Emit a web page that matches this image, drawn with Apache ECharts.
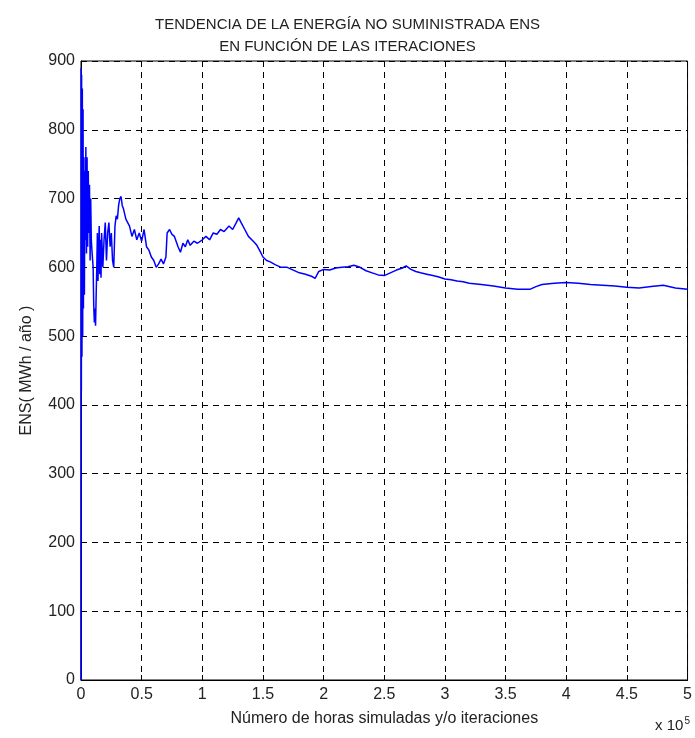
<!DOCTYPE html>
<html>
<head>
<meta charset="utf-8">
<script src="https://cdn.jsdelivr.net/npm/echarts@6/dist/echarts.min.js"></script>
<style>
html, body {margin: 0; padding: 0; background: #fff;}
#main {width: 695px; height: 738px;}
</style>
</head>
<body>
<div id="main"></div>
<script>
// iteraciones (x 10^5) y ENS (MWh / año)
const iteraciones = [
    0, 0.001, 0.003, 0.005, 0.008, 0.011, 0.014, 0.017, 0.02, 0.024, 0.028, 0.032, 0.036, 0.04, 0.045,
    0.05, 0.055, 0.06, 0.065, 0.07, 0.075, 0.08, 0.085, 0.09, 0.1, 0.105, 0.11, 0.115, 0.12, 0.125,
    0.13, 0.135, 0.14, 0.145, 0.15, 0.155, 0.16, 0.165, 0.17, 0.18, 0.19, 0.2, 0.21, 0.22, 0.23,
    0.24, 0.25, 0.26, 0.27, 0.28, 0.29, 0.3, 0.31, 0.32, 0.33, 0.34, 0.35, 0.37, 0.4, 0.42,
    0.44, 0.46, 0.48, 0.5, 0.52, 0.54, 0.56, 0.58, 0.6, 0.62, 0.64, 0.66, 0.68, 0.7, 0.71,
    0.73, 0.75, 0.77, 0.8, 0.82, 0.84, 0.86, 0.88, 0.9, 0.93, 0.96, 1.0, 1.03, 1.06, 1.09,
    1.12, 1.15, 1.18, 1.22, 1.25, 1.28, 1.3, 1.32, 1.35, 1.38, 1.42, 1.45, 1.48, 1.5, 1.53,
    1.56, 1.6, 1.65, 1.7, 1.75, 1.8, 1.85, 1.9, 1.93, 1.96, 2.0, 2.05, 2.1, 2.15, 2.2,
    2.25, 2.3, 2.35, 2.4, 2.45, 2.5, 2.55, 2.6, 2.65, 2.68, 2.72, 2.76, 2.8, 2.85, 2.9,
    2.95, 3.0, 3.05, 3.1, 3.15, 3.2, 3.3, 3.4, 3.5, 3.6, 3.7, 3.75, 3.8, 3.9, 4.0,
    4.1, 4.2, 4.3, 4.4, 4.5, 4.6, 4.7, 4.8, 4.9, 5.0
];
const ens = [
    0, 890, 420, 880, 470, 860, 500, 830, 540, 760, 560, 740, 640, 775, 620,
    760, 630, 740, 650, 720, 610, 700, 640, 625, 600, 545, 520, 540, 515, 560,
    600, 650, 580, 620, 660, 590, 640, 585, 650, 600, 640, 665, 610, 650, 665,
    630, 650, 610, 600, 660, 675, 670, 690, 700, 703, 690, 685, 670, 660, 645,
    655, 640, 650, 638, 655, 630, 625, 615, 610, 600, 605, 612, 605, 615, 650,
    655, 648, 645, 630, 622, 635, 630, 640, 632, 638, 635, 640, 645, 640, 650,
    648, 655, 652, 660, 655, 665, 672, 665, 655, 645, 638, 632, 622, 615, 610,
    608, 604, 600, 600, 596, 592, 590, 587, 584, 594, 597, 596, 599, 600, 601,
    603, 600, 595, 592, 589, 588, 592, 596, 599, 602, 597, 594, 592, 590, 588,
    586, 583, 582, 580, 579, 577, 575, 573, 570, 568, 568, 572, 575, 577, 578,
    577, 575, 574, 573, 571, 570, 572, 574, 570, 568
];
const xTicks = [0, 0.5, 1, 1.5, 2, 2.5, 3, 3.5, 4, 4.5, 5];
const yTicks = [0, 100, 200, 300, 400, 500, 600, 700, 800, 900];

let puntos = [];
for (let i = 0; i < iteraciones.length; i++){
    puntos.push([iteraciones[i], ens[i]]);
}

const fuente = 'Liberation Sans';
const gris = '#222';

let option = {
    animation: false,
    title: {
        text: 'TENDENCIA DE LA ENERGÍA NO SUMINISTRADA ENS\nEN FUNCIÓN DE LAS ITERACIONES',
        left: 'center',
        top: 9,
        textStyle: {fontFamily: fuente, fontSize: 15, fontWeight: 'normal', color: gris, lineHeight: 22}
    },
    grid: {
        left: 81, right: 3, top: 61, bottom: 58,
        show: true, borderColor: '#000', borderWidth: 1, backgroundColor: '#fff'
    },
    xAxis: {
        type: 'value',
        min: xTicks[0], max: xTicks[xTicks.length - 1], interval: 0.5,
        name: 'Número de horas simuladas y/o iteraciones',
        nameLocation: 'middle',
        nameGap: 31,
        nameTextStyle: {fontFamily: fuente, fontSize: 16, color: gris},
        axisLine: {show: true, lineStyle: {color: '#000', width: 1}},
        axisTick: {show: true, inside: true, length: 5, lineStyle: {color: '#000'}},
        axisLabel: {fontFamily: fuente, fontSize: 16, color: gris, margin: 7,
            formatter: v => String(v)},
        splitLine: {show: true, lineStyle: {color: '#000', type: [6, 5], width: 1}}
    },
    yAxis: {
        type: 'value',
        min: yTicks[0], max: yTicks[yTicks.length - 1], interval: 100,
        name: 'ENS( MWh / año )',
        nameLocation: 'middle',
        nameGap: 46,
        nameRotate: 90,
        nameTextStyle: {fontFamily: fuente, fontSize: 16, color: gris},
        axisLine: {show: true, lineStyle: {color: '#000', width: 1}},
        axisTick: {show: true, inside: true, length: 5, lineStyle: {color: '#000'}},
        axisLabel: {fontFamily: fuente, fontSize: 16, color: gris, margin: 6},
        splitLine: {show: true, lineStyle: {color: '#000', type: [6, 5], width: 1}}
    },
    graphic: [{
        type: 'text',
        right: 5,
        top: 716,
        style: {
            text: 'x 10{sup|5}',
            fontFamily: fuente, fontSize: 15, fill: gris,
            rich: {sup: {fontFamily: fuente, fontSize: 10, fill: gris, verticalAlign: 'top', padding: [0, 0, 9, 1]}}
        }
    }],
    series: [{
        type: 'line',
        data: puntos,
        showSymbol: false,
        lineStyle: {color: '#0000ff', width: 1.5},
        itemStyle: {color: '#0000ff'}
    }]
};

let chart = echarts.init(document.getElementById('main'));
chart.setOption(option);
</script>
</body>
</html>
